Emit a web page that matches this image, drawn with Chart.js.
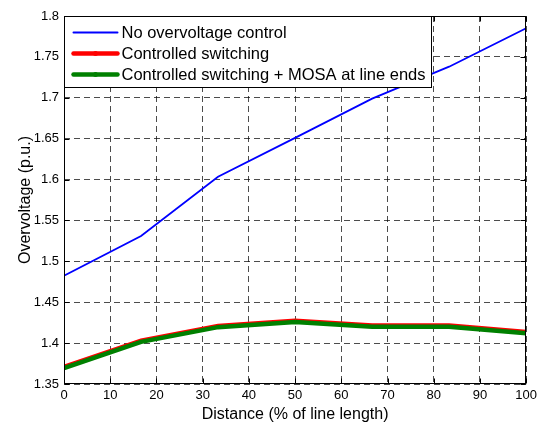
<!DOCTYPE html>
<html>
<head>
<meta charset="utf-8">
<script src="https://cdn.jsdelivr.net/npm/chart.js@4.4.1/dist/chart.umd.min.js"></script>
<style>
  html, body { margin: 0; padding: 0; background: #ffffff; }
  #wrap { width: 541px; height: 427px; }
</style>
</head>
<body>
<div id="wrap"><canvas id="c" width="541" height="427"></canvas></div>
<script>
// ---- data ----
const distance = [0, 16.67, 33.33, 50, 66.67, 83.33, 100];
const noControl = [1.4825, 1.531, 1.6035, 1.651, 1.699, 1.738, 1.785];
const controlledSwitching = [1.3717, 1.4037, 1.4217, 1.4279, 1.4222, 1.4222, 1.4142];
const controlledMosa = [1.3695, 1.4015, 1.4195, 1.4257, 1.420, 1.420, 1.412];
const seriesLabels = ["No overvoltage control", "Controlled switching", "Controlled switching + MOSA at line ends"];
const xTickValues = [0, 10, 20, 30, 40, 50, 60, 70, 80, 90, 100];
const yTickValues = [1.35, 1.4, 1.45, 1.5, 1.55, 1.6, 1.65, 1.7, 1.75, 1.8];
const xTitle = "Distance (% of line length)";
const yTitle = "Overvoltage (p.u.)";

const FONT = "'Liberation Sans', Arial, Helvetica, sans-serif";

function pts(ys) { return distance.map((x, i) => ({ x: x, y: ys[i] })); }

const frameAndLegend = {
  id: 'frameAndLegend',
  afterDatasetsDraw(chart) {
    const ctx = chart.ctx;
    const a = chart.chartArea;
    const xs = chart.scales.x, ys = chart.scales.y;
    const L = Math.round(a.left) + 0.5, R = Math.round(a.right) - 0.5;
    const T = Math.round(a.top) + 0.5, B = Math.round(a.bottom) - 0.5;
    ctx.save();
    ctx.strokeStyle = '#000';
    ctx.lineWidth = 1;
    ctx.setLineDash([]);
    // inner ticks
    const tl = 5;
    ctx.beginPath();
    xTickValues.forEach(v => {
      const p = Math.round(xs.getPixelForValue(v)) + 0.5;
      ctx.moveTo(p, B); ctx.lineTo(p, B - tl);
      ctx.moveTo(p, T); ctx.lineTo(p, T + tl);
    });
    yTickValues.forEach(v => {
      const p = Math.round(ys.getPixelForValue(v)) + 0.5;
      ctx.moveTo(L, p); ctx.lineTo(L + tl, p);
      ctx.moveTo(R, p); ctx.lineTo(R - tl, p);
    });
    ctx.stroke();
    // frame
    ctx.strokeRect(L, T, R - L, B - T);

    // legend
    ctx.font = '16.5px ' + FONT;
    const colors = chart.data.datasets.map(d => d.borderColor);
    const widths = chart.data.datasets.map(d => d.legendWidth);
    let maxW = 0;
    seriesLabels.forEach(s => { maxW = Math.max(maxW, ctx.measureText(s).width); });
    const bx = L, by = T;
    const lineX0 = bx + 9, lineX1 = bx + 53, textX = bx + 57;
    const bw = Math.round(textX + maxW + 6 - bx);
    const bh = 71;
    ctx.fillStyle = '#fff';
    ctx.fillRect(bx, by, bw, bh);
    ctx.strokeStyle = '#000';
    ctx.strokeRect(bx, by, bw, bh);
    const rowY = [by + 16, by + 37, by + 58];
    seriesLabels.forEach((s, i) => {
      ctx.strokeStyle = colors[i];
      ctx.lineWidth = widths[i];
      ctx.lineCap = 'round';
      ctx.beginPath();
      ctx.moveTo(lineX0, rowY[i]); ctx.lineTo(lineX1, rowY[i]);
      ctx.stroke();
      if (i > 0) {
        ctx.fillStyle = colors[i];
        ctx.beginPath();
        ctx.arc((lineX0 + lineX1) / 2, rowY[i], 2.5, 0, Math.PI * 2);
        ctx.fill();
      }
      ctx.fillStyle = '#000';
      ctx.textBaseline = 'middle';
      ctx.textAlign = 'left';
      ctx.fillText(s, textX, rowY[i] + 1);
    });
    ctx.restore();
  }
};

new Chart(document.getElementById('c'), {
  type: 'scatter',
  data: {
    datasets: [
      { label: seriesLabels[0], data: pts(noControl), borderColor: '#0000ff', backgroundColor: '#0000ff',
        borderWidth: 1.8, legendWidth: 2, showLine: true, pointRadius: 0, tension: 0, order: 2 },
      { label: seriesLabels[1], data: pts(controlledSwitching), borderColor: '#ff0000', backgroundColor: '#ff0000',
        borderWidth: 3.5, legendWidth: 4.5, showLine: true, pointRadius: 0, tension: 0, order: 1 },
      { label: seriesLabels[2], data: pts(controlledMosa), borderColor: '#008000', backgroundColor: '#008000',
        borderWidth: 4.5, legendWidth: 4.5, showLine: true, pointRadius: 0, tension: 0, order: 0 }
    ]
  },
  options: {
    responsive: false,
    animation: false,
    devicePixelRatio: 1,
    layout: { padding: { left: 0, right: 12, top: 16, bottom: 0 } },
    plugins: { legend: { display: false }, tooltip: { enabled: false } },
    scales: {
      x: {
        type: 'linear', min: 0, max: 100,
        afterBuildTicks: (s) => { s.ticks = xTickValues.map(v => ({ value: v })); },
        afterFit: (s) => { s.height = 43; },
        ticks: { color: '#000', font: { family: FONT, size: 13 }, padding: 4, maxRotation: 0,
                 callback: (v) => String(v) },
        grid: { color: 'rgba(0,0,0,0.7)', lineWidth: 1, drawTicks: false },
        border: { display: false, dash: [6, 4] },
        title: { display: true, text: xTitle, color: '#000', font: { family: FONT, size: 16 },
                 padding: { top: 0, bottom: 3 } }
      },
      y: {
        type: 'linear', min: 1.35, max: 1.8,
        afterBuildTicks: (s) => { s.ticks = yTickValues.map(v => ({ value: v })); },
        afterFit: (s) => { s.width = 64; },
        ticks: { color: '#000', font: { family: FONT, size: 13 }, padding: 5,
                 callback: (v) => String(Number(v.toFixed(2))) },
        grid: { color: 'rgba(0,0,0,0.7)', lineWidth: 1, drawTicks: false },
        border: { display: false, dash: [6, 4] },
        title: { display: true, text: yTitle, color: '#000', font: { family: FONT, size: 16 },
                 padding: { top: 16, bottom: 0 } }
      }
    }
  },
  plugins: [frameAndLegend]
});
</script>
</body>
</html>
